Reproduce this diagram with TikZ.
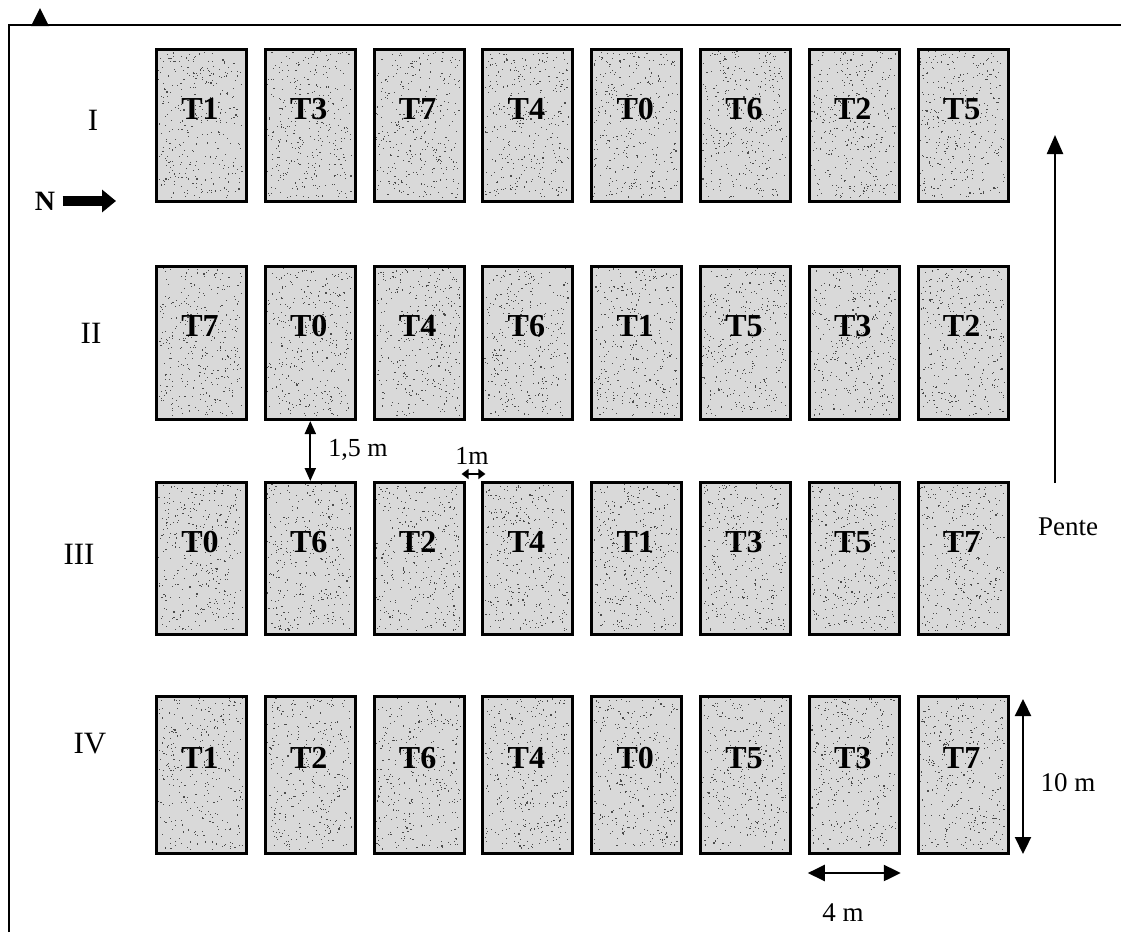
\documentclass[tikz,border=0pt]{standalone}
\usepackage{fontspec}
\setmainfont{Liberation Serif}
\usetikzlibrary{arrows.meta}
\begin{document}
\begin{tikzpicture}[x=1pt,y=-1pt,
  plotbox/.style={draw=black,line width=3pt,fill=black!15,minimum width=90pt,anchor=north west,inner sep=0pt},
  speck/.style={fill=black!70},
  tlab/.style={font=\fontsize{32}{32}\selectfont\bfseries},
  rowlab/.style={font=\fontsize{31}{31}\selectfont},
  dimlab/.style={font=\fontsize{27}{27}\selectfont},
  smalllab/.style={font=\fontsize{26}{26}\selectfont},
  framearrow/.style={line width=1.8pt},
  bigdim/.style={line width=2.2pt,{Triangle[width=16pt,length=17pt]}-{Triangle[width=16pt,length=17pt]}},
  middim/.style={line width=2pt,{Triangle[width=11pt,length=13pt]}-{Triangle[width=11pt,length=13pt]}},
  tinydim/.style={line width=1.8pt,{Triangle[width=10pt,length=7pt]}-{Triangle[width=10pt,length=7pt]}},
  slope/.style={line width=2.4pt,-{Triangle[width=16pt,length=19pt]}},
  northarrow/.style={line width=10pt,-{Triangle[width=22pt,length=14pt]}}
]
\useasboundingbox (0,0) rectangle (1121,932);
\pgfmathsetseed{7}

% frame
\coordinate (fbl) at (9,932);
\coordinate (ftl) at (9,25);
\coordinate (ftr) at (1121,25);
\draw[framearrow] (fbl) -- (ftl) -- (ftr);
\fill (31,26) -- (40,8) -- (49,26) -- cycle;

% plots
\foreach \r/\top/\h/\labs in {1/48/152/{T1,T3,T7,T4,T0,T6,T2,T5},
                             2/265/153/{T7,T0,T4,T6,T1,T5,T3,T2},
                             3/481/152/{T0,T6,T2,T4,T1,T3,T5,T7},
                             4/695/157/{T1,T2,T6,T4,T0,T5,T3,T7}}{
  \foreach \lab [count=\c] in \labs {
    \pgfmathsetmacro\xl{155+108.8*(\c-1)}
    \node[plotbox,minimum height=\h pt] (r\r c\c) at (\xl,\top) {};
    \foreach \k in {1,...,340}{
      \pgfmathsetmacro\px{\xl+3+84*rnd}
      \pgfmathsetmacro\py{\top+3+(\h-6)*rnd}
      \fill[speck] (\px,\py) rectangle ++(1.1,1.1);
    }
    \node[tlab] (t\r c\c) at ({\xl+45},{\top+0.4*\h}) {\lab};
  }
}

% row labels
\node[rowlab] (rI) at (93,120) {I};
\node[rowlab] (rII) at (91,333) {II};
\node[rowlab] (rIII) at (79,554) {III};
\node[rowlab] (rIV) at (90,744) {IV};

% north arrow
\node[font=\fontsize{28}{28}\selectfont\bfseries] (N) at (45,201) {N};
\coordinate (Nend) at (116,201);
\draw[northarrow] ([xshift=4pt]N.east) -- (Nend);

% 1,5 m
\draw[middim] (r2c2.south) -- (r3c2.north);
\node[smalllab] (l15) at (358,450) {1,5 m};

% 1 m
\draw[tinydim] ([xshift=-4pt,yshift=7pt]r3c3.north east) -- ([xshift=4pt,yshift=7pt]r3c4.north west);
\node[smalllab] (l1) at (472,456) {1m};

% slope
\coordinate (p1) at (1055,483);
\coordinate (p2) at (1055,135);
\draw[slope] (p1) -- (p2);
\node[font=\fontsize{27}{27}\selectfont] (pente) at (1068,527) {Pente};

% 10 m
\coordinate (d1) at (1023,699);
\coordinate (d2) at (1023,854);
\draw[bigdim] (d1) -- (d2);
\node[dimlab] (l10) at (1068,783) {10 m};

% 4 m
\draw[bigdim] ([yshift=-18pt]r4c7.south west) -- ([yshift=-18pt]r4c7.south east);
\node[dimlab] (l4) at (843,913) {4 m};
\end{tikzpicture}
\end{document}
